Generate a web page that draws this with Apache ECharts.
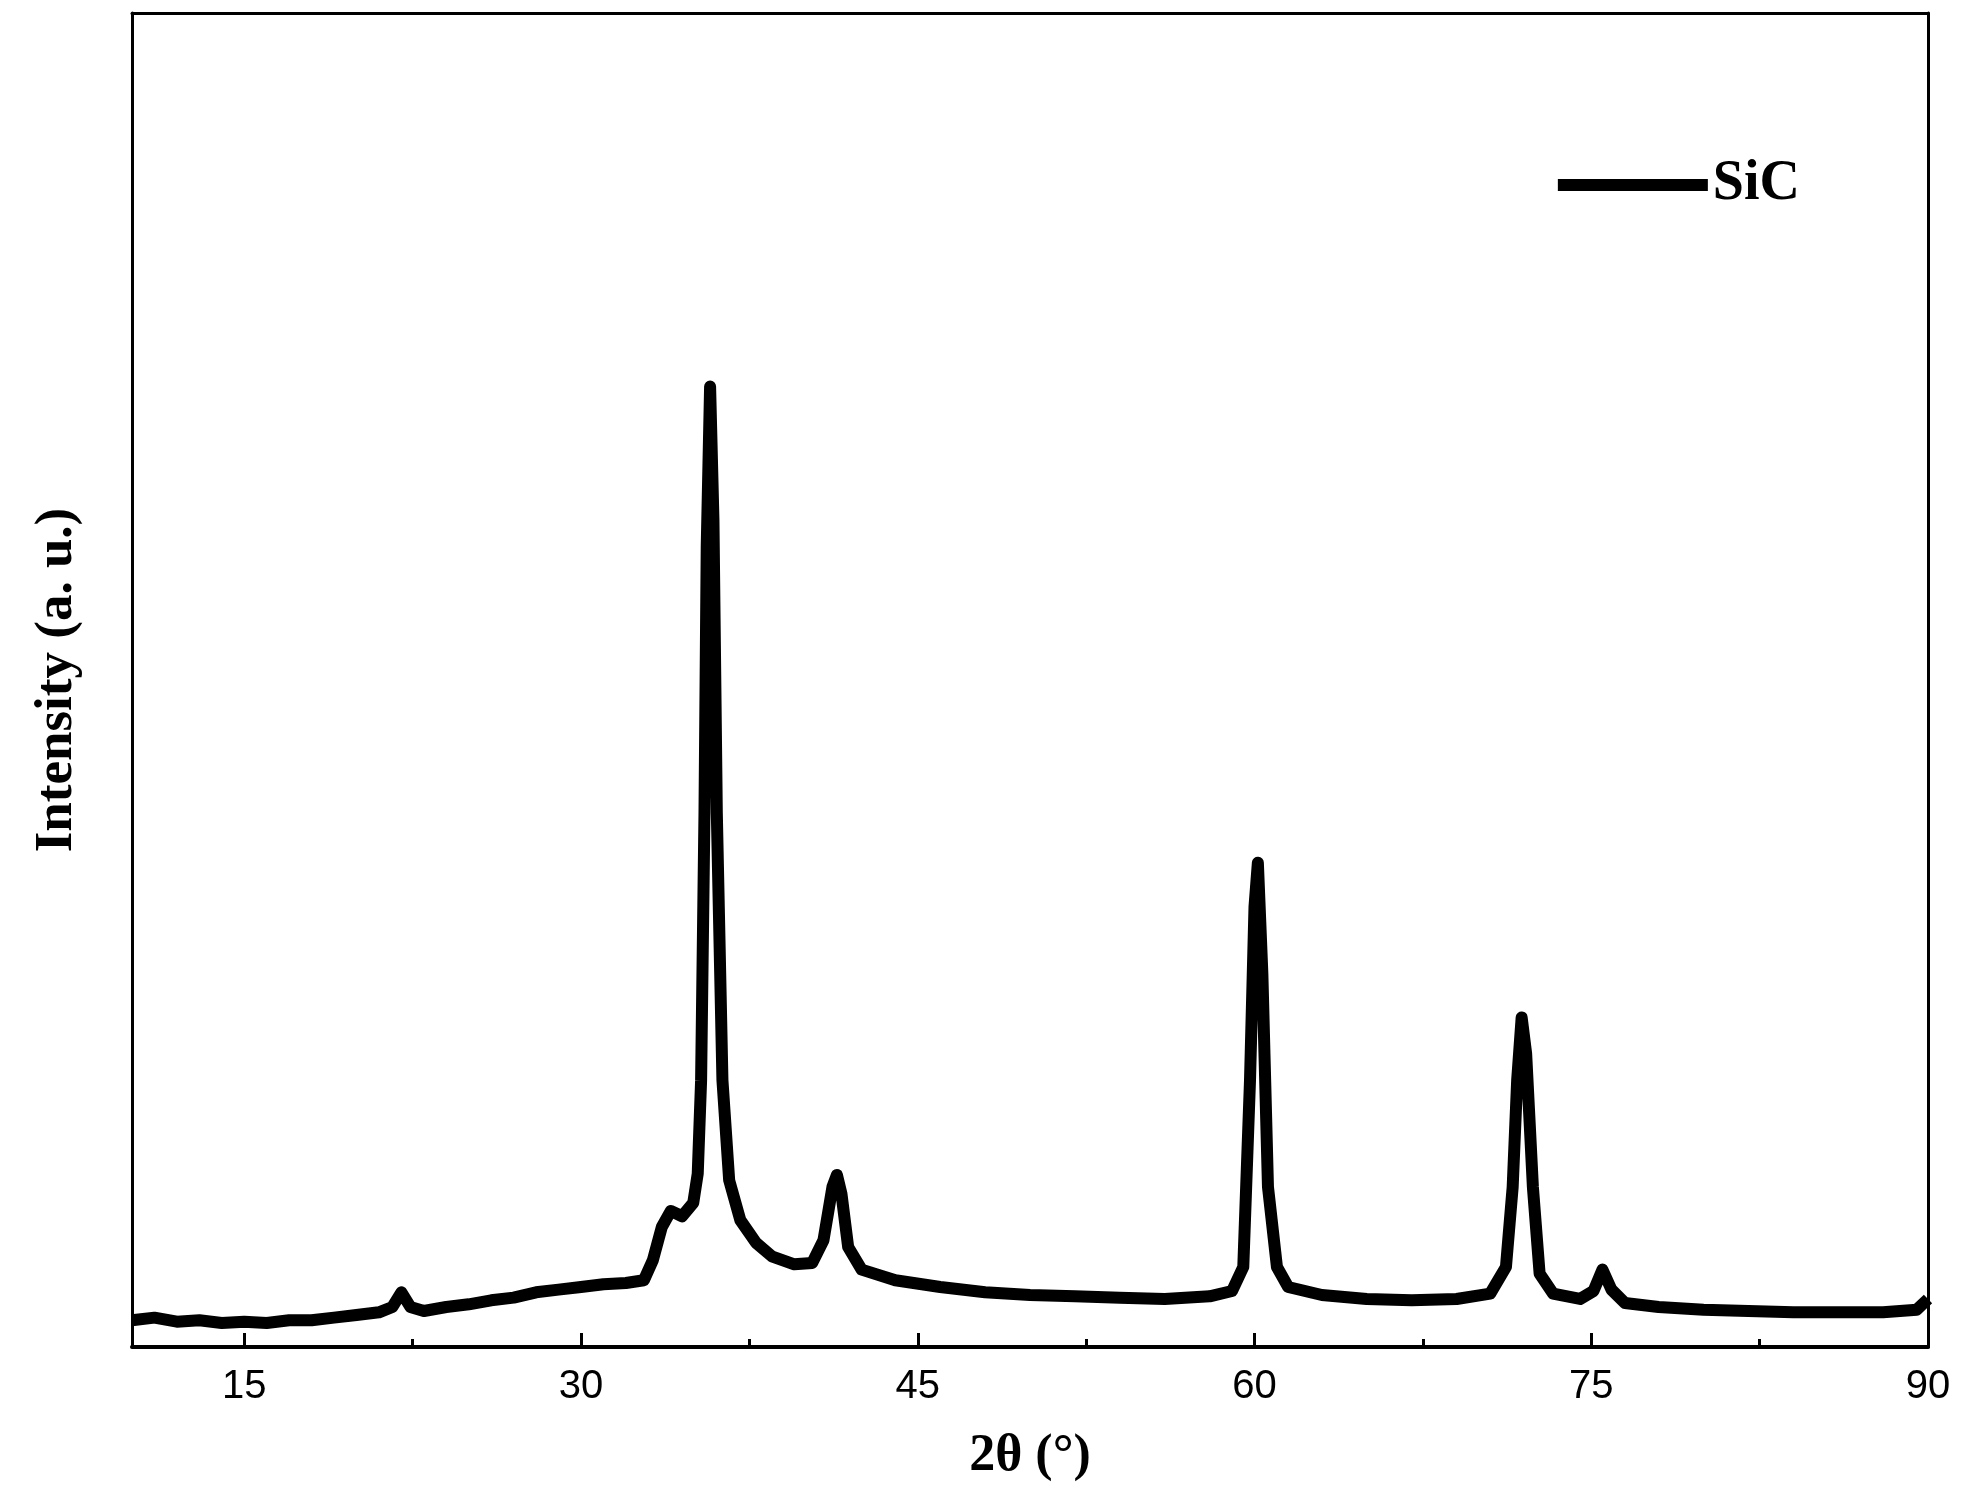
<!DOCTYPE html>
<html><head><meta charset="utf-8">
<script src="https://cdn.jsdelivr.net/npm/echarts@6/dist/echarts.min.js"></script>
<style>html,body{margin:0;background:#fff}#c{width:1970px;height:1508px}</style>
</head><body><div id="c"></div>
<script>
// 2theta / intensity
var twoTheta=[10,11,12,13,14,15,16,17,18,19,20,21,21.6,22,22.4,23,24,25,26,27,28,29,30,31,32,32.8,33.2,33.6,34,34.5,35,35.2,35.35,35.5,35.6,35.75,35.9,36.05,36.3,36.6,37.1,37.8,38.5,39.5,40.3,40.8,41.2,41.4,41.6,41.9,42.5,44,46,48,50,52,54,56,58,59,59.5,59.8,60,60.15,60.35,60.6,61,61.5,63,65,67,69,70.5,71.2,71.5,71.7,71.9,72.1,72.4,72.7,73.3,74.5,75.1,75.5,75.9,76.5,78,80,82,84,86,88,89.5,90];
var intensity=[2.0,2.2,1.9,2.0,1.8,1.9,1.8,2.0,2.0,2.2,2.4,2.6,3.0,4.1,3.0,2.7,3.0,3.2,3.5,3.7,4.1,4.3,4.5,4.7,4.8,5.0,6.5,9.0,10.2,9.8,10.8,13,20,40,60,72,62,40,20,12.5,9.5,7.8,6.8,6.2,6.3,8,12,12.9,11.5,7.5,5.8,5.0,4.5,4.1,3.9,3.8,3.7,3.6,3.8,4.2,6,20,33,36.3,28,12,6,4.5,3.9,3.6,3.5,3.6,4,6,12,20,24.7,22,12,5.5,4,3.6,4.2,5.8,4.3,3.3,3.0,2.8,2.7,2.6,2.6,2.6,2.8,3.6];
var majorTicks=[15,30,45,60,75,90];
var minorTicks=[22.5,37.5,52.5,67.5,82.5];

var pts=twoTheta.map(function(x,i){return [x,intensity[i]];});
var chart=echarts.init(document.getElementById('c'));
var grid={left:132,right:42,top:13,bottom:161};
chart.setOption({
  animation:false,
  grid:grid,
  legend:{data:['SiC'],right:165,top:152,itemWidth:150,itemHeight:12,
    icon:'rect',itemGap:0,
    textStyle:{fontFamily:'Liberation Serif',fontWeight:'bold',fontSize:56,color:'#000'}},
  xAxis:[{type:'value',min:10,max:90,name:'2θ (°)',nameLocation:'middle',nameGap:84,
    nameTextStyle:{fontFamily:'Liberation Serif',fontWeight:'bold',fontSize:52,color:'#000'},
    axisLine:{lineStyle:{color:'#000',width:4}},
    axisTick:{inside:true,length:14,lineStyle:{color:'#000',width:3},customValues:majorTicks},
    axisLabel:{fontFamily:'Liberation Sans Narrow, Liberation Sans',fontSize:40,color:'#000',margin:20,customValues:majorTicks},
    splitLine:{show:false}},
   {type:'value',min:10,max:90,position:'bottom',
    axisLine:{show:false},
    axisTick:{inside:true,length:8,lineStyle:{color:'#000',width:3},customValues:minorTicks},
    axisLabel:{show:false},splitLine:{show:false}},
   {type:'value',min:10,max:90,position:'top',
    axisLine:{lineStyle:{color:'#000',width:3}},axisTick:{show:false},axisLabel:{show:false},splitLine:{show:false}}],
  yAxis:[{type:'value',min:0,max:100,name:'Intensity (a. u.)',nameLocation:'middle',nameGap:48,
    nameTextStyle:{fontFamily:'Liberation Serif',fontWeight:'bold',fontSize:53,color:'#000'},
    axisLine:{show:true,lineStyle:{color:'#000',width:3}},axisTick:{show:false},axisLabel:{show:false},splitLine:{show:false}},
   {type:'value',min:0,max:100,position:'right',
    axisLine:{show:true,lineStyle:{color:'#000',width:3}},axisTick:{show:false},axisLabel:{show:false},splitLine:{show:false}}],
  series:[{name:'SiC',type:'line',data:pts,showSymbol:false,
    lineStyle:{color:'#000',width:12,join:'round'},itemStyle:{color:'#000'}}]
});
</script></body></html>
